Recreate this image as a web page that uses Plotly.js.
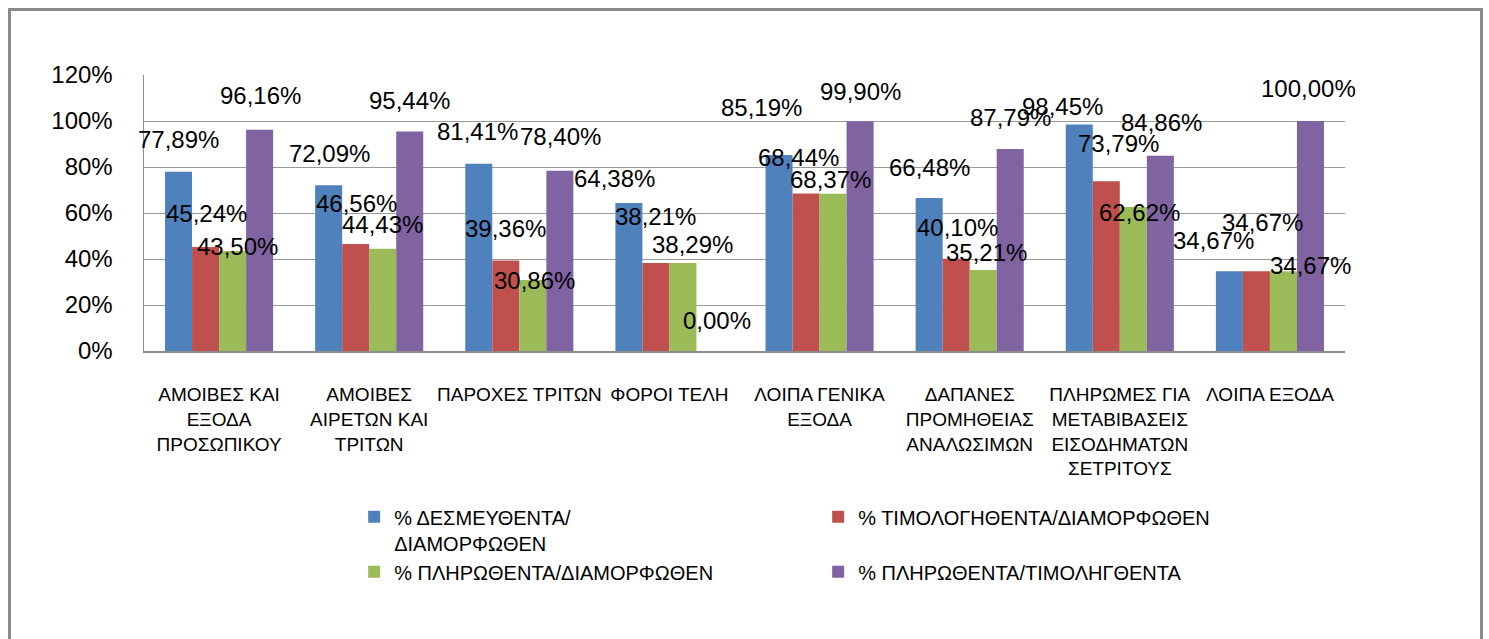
<!DOCTYPE html>
<html>
<head>
<meta charset="utf-8">
<script src="https://cdn.plot.ly/plotly-3.0.1.min.js"></script>
<style>
  html, body { margin: 0; padding: 0; background: #fff; }
  #chart { width: 1489px; height: 639px; }
  #frame { position: absolute; left: 8px; top: 8px; width: 1469px; height: 700px;
           border: 3px solid #8a8a8a; pointer-events: none; }
</style>
</head>
<body>
<div id="chart"></div>
<div id="frame"></div>
<script>
// ---- data ----
const categories = [
  'ΑΜΟΙΒΕΣ ΚΑΙ<br>ΕΞΟΔΑ<br>ΠΡΟΣΩΠΙΚΟΥ',
  'ΑΜΟΙΒΕΣ<br>ΑΙΡΕΤΩΝ ΚΑΙ<br>ΤΡΙΤΩΝ',
  'ΠΑΡΟΧΕΣ ΤΡΙΤΩΝ',
  'ΦΟΡΟΙ ΤΕΛΗ',
  'ΛΟΙΠΑ ΓΕΝΙΚΑ<br>ΕΞΟΔΑ',
  'ΔΑΠΑΝΕΣ<br>ΠΡΟΜΗΘΕΙΑΣ<br>ΑΝΑΛΩΣΙΜΩΝ',
  'ΠΛΗΡΩΜΕΣ ΓΙΑ<br>ΜΕΤΑΒΙΒΑΣΕΙΣ<br>ΕΙΣΟΔΗΜΑΤΩΝ<br>ΣΕΤΡΙΤΟΥΣ',
  'ΛΟΙΠΑ ΕΞΟΔΑ'
];
const seriesNames = [
  '% ΔΕΣΜΕΥΘΕΝΤΑ/<br>ΔΙΑΜΟΡΦΩΘΕΝ',
  '% ΤΙΜΟΛΟΓΗΘΕΝΤΑ/ΔΙΑΜΟΡΦΩΘΕΝ',
  '% ΠΛΗΡΩΘΕΝΤΑ/ΔΙΑΜΟΡΦΩΘΕΝ',
  '% ΠΛΗΡΩΘΕΝΤΑ/ΤΙΜΟΛΗΓΘΕΝΤΑ'
];
const desmeuthenta   = [77.89, 72.09, 81.41, 64.38, 85.19, 66.48, 98.45, 34.67];
const timologithenta = [45.24, 46.56, 39.36, 38.21, 68.44, 40.10, 73.79, 34.67];
const plirothentaD   = [43.50, 44.43, 30.86, 38.29, 68.37, 35.21, 62.62, 34.67];
const plirothentaT   = [96.16, 95.44, 78.40, 0.00, 99.90, 87.79, 84.86, 100.00];
const yTicks = [0, 20, 40, 60, 80, 100, 120];

// ---- styles ----
const colors = ['#4F81BD', '#C0504D', '#9BBB59', '#8064A2'];
// label placement tweaks (px): rise above bar top, horizontal shift
const labelRise = [
  [32, 32, 32, 24, 48, 31, 18, 31],
  [33, 40, 32, 47, 36, 31, 38, 49],
  [4, 24, 0, 18, 14, 18, -6, 6],
  [34, 31, 34, 31, 30, 32, 33, 33]
];
const labelShift = [
  [0, 1, -1, -14, -18, 0, -17, -16],
  [1, 1, 0, 0, -8, 1, 12, 6],
  [5, 0, 2, 10, -3, 3, 6, 27],
  [1, 0, 1, 7, 0, 0, 1, -2]
];

const W = 1489, H = 639;
const margin = {l: 144, r: 144, t: 75, b: 288};
const bargap = 0.28;
const series = [desmeuthenta, timologithenta, plirothentaD, plirothentaT];

const traces = series.map((vals, s) => ({
  type: 'bar',
  name: seriesNames[s],
  x: categories,
  y: vals,
  marker: {color: colors[s]},
  hoverinfo: 'x+y'
}));

const plotW = W - margin.l - margin.r;
const catW = plotW / categories.length;
const barW = catW * (1 - bargap) / series.length;
const fmt = v => v.toFixed(2).replace('.', ',') + '%';

const annotations = [];
series.forEach((vals, s) => {
  const off = (s - (series.length - 1) / 2) * barW;
  vals.forEach((v, i) => {
    annotations.push({
      x: categories[i], y: v, xref: 'x', yref: 'y',
      text: fmt(v), showarrow: false,
      xanchor: 'center', yanchor: 'middle',
      xshift: off + labelShift[s][i], yshift: labelRise[s][i],
      font: {family: 'Liberation Sans, Arial, sans-serif', size: 24, color: '#000'}
    });
  });
});

const layout = {
  width: W, height: H,
  margin: margin,
  paper_bgcolor: '#fff', plot_bgcolor: '#fff',
  barmode: 'group', bargap: bargap, bargroupgap: 0,
  showlegend: true,
  legend: {
    orientation: 'h', x: 0.175, xanchor: 'left', y: -0.53, yanchor: 'top',
    entrywidth: 419, entrywidthmode: 'pixels', valign: 'top',
    font: {family: 'Liberation Sans, Arial, sans-serif', size: 20, color: '#000'},
    traceorder: 'normal', itemwidth: 30
  },
  xaxis: {
    type: 'category', autorange: false, range: [-0.5, categories.length - 0.5],
    showgrid: false, showline: true, linecolor: '#8c8c8c', linewidth: 1.5,
    ticks: '', tickangle: 0, ticklabelstandoff: 26,
    tickfont: {family: 'Liberation Sans, Arial, sans-serif', size: 19, color: '#000'}
  },
  yaxis: {
    autorange: false, range: [0, 120], tickvals: yTicks, ticktext: yTicks.map(t => t + '%'),
    showgrid: true, gridcolor: '#9a9a9a', gridwidth: 1,
    showline: true, linecolor: '#8c8c8c', linewidth: 1.5,
    zeroline: false, ticks: '', ticklabelstandoff: 25,
    tickfont: {family: 'Liberation Sans, Arial, sans-serif', size: 24, color: '#000'}
  },
  annotations: annotations
};

Plotly.newPlot('chart', traces, layout, {displayModeBar: false, staticPlot: true});
</script>
</body>
</html>
